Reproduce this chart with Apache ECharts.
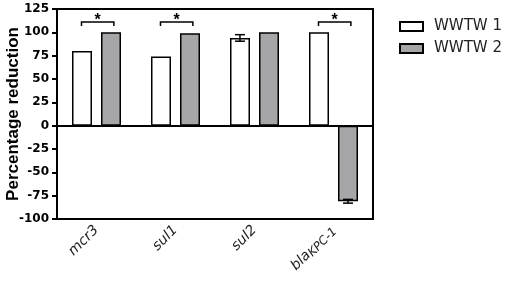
<!DOCTYPE html>
<html><head><meta charset="utf-8">
<script src="https://cdn.jsdelivr.net/npm/echarts@6/dist/echarts.min.js"></script>
<style>html,body{margin:0;padding:0;background:#fff}#c{width:510px;height:281px}</style>
</head><body><div id="c"></div>
<script>
const categories = ['mcr3', 'sul1', 'sul2', 'blaKPC-1'];
const seriesNames = ['WWTW 1', 'WWTW 2'];
const wwtw1 = [80, 74, 94, 100];
const wwtw2 = [100, 99, 100, -81];
const wwtw1Err = [0, 0, 3.5, 0];
const wwtw2Err = [0, 0, 0, 2];
const sigCategories = [0, 1, 3];
const sigHeight = 111;
const yTicks = [-100, -75, -50, -25, 0, 25, 50, 75, 100, 125];

const errData = [];
wwtw1.forEach((v, i) => { if (wwtw1Err[i] > 0) errData.push([i, 0, v, wwtw1Err[i]]); });
wwtw2.forEach((v, i) => { if (wwtw2Err[i] > 0) errData.push([i, 1, v, wwtw2Err[i]]); });
const sigData = sigCategories.map(i => [i, sigHeight]);

const chart = echarts.init(document.getElementById('c'));
const FONT = '"Liberation Sans", Arial, sans-serif';
const WIDE = '"DejaVu Sans", sans-serif';
chart.setOption({
  animation: false,
  textStyle: { fontFamily: FONT },
  grid: { left: 57, right: 137, top: 9, bottom: 62, show: true, borderColor: '#000', borderWidth: 2,
    outerBoundsMode: 'none', containLabel: false },
  legend: {
    left: 394, top: 14, orient: 'vertical', itemWidth: 23, itemHeight: 9, itemGap: 7, icon: 'rect',
    textStyle: { fontSize: 15, color: '#222', fontFamily: WIDE, padding: [0, 0, 0, 6] },
    data: seriesNames
  },
  xAxis: {
    type: 'category', data: categories,
    axisLine: { onZero: false, lineStyle: { color: '#000', width: 2 } },
    axisTick: { alignWithLabel: true, length: 5, lineStyle: { color: '#000', width: 2 } },
    axisLabel: {
      rotate: 45, margin: 9, color: '#222',
      formatter: v => v === 'blaKPC-1' ? '{i|bla}{s|KPC-1}' : '{i|' + v + '}',
      rich: {
        i: { fontSize: 14, fontStyle: 'italic', color: '#222', fontFamily: WIDE },
        s: { fontSize: 12, fontStyle: 'italic', color: '#222', fontFamily: WIDE, padding: [5, 0, 0, 0] }
      }
    }
  },
  yAxis: {
    type: 'value', min: yTicks[0], max: yTicks[yTicks.length - 1], interval: 25,
    name: 'Percentage reduction', nameLocation: 'middle', nameGap: 35, nameMoveOverlap: false,
    nameTextStyle: { fontSize: 17, fontWeight: 'bold', color: '#000', fontFamily: FONT },
    axisLine: { show: true, lineStyle: { color: '#000', width: 2 } },
    axisTick: { show: true, length: 5, lineStyle: { color: '#000', width: 2 } },
    axisLabel: { fontSize: 12, fontWeight: 'bold', color: '#000', margin: 8, fontFamily: WIDE },
    splitLine: { show: false }
  },
  series: [
    {
      name: seriesNames[0], type: 'bar', data: wwtw1, barWidth: 20, barGap: '45%',
      itemStyle: { color: '#fff', borderColor: '#000', borderWidth: 1.5 },
      markLine: { silent: true, symbol: 'none', label: { show: false },
        lineStyle: { color: '#000', width: 2, type: 'solid' }, data: [{ yAxis: 0 }] }
    },
    {
      name: seriesNames[1], type: 'bar', data: wwtw2, barWidth: 20,
      itemStyle: { color: '#a6a6a9', borderColor: '#000', borderWidth: 1.5 }
    },
    {
      type: 'custom', data: errData, z: 10, silent: true,
      renderItem: (params, api) => {
        const c = api.coord([api.value(0), api.value(2)]);
        const band = api.size([1, 0])[0];
        const off = (api.value(1) === 0 ? -1 : 1) * band * 0.184;
        const x = c[0] + off;
        const hi = api.coord([api.value(0), api.value(2) + api.value(3)])[1];
        const lo = api.coord([api.value(0), api.value(2) - api.value(3)])[1];
        const st = { stroke: '#000', lineWidth: 1.5 };
        return { type: 'group', children: [
          { type: 'line', shape: { x1: x, y1: hi, x2: x, y2: lo }, style: st },
          { type: 'line', shape: { x1: x - 5, y1: hi, x2: x + 5, y2: hi }, style: st },
          { type: 'line', shape: { x1: x - 5, y1: lo, x2: x + 5, y2: lo }, style: st }
        ]};
      }
    },
    {
      type: 'custom', data: sigData, z: 10, silent: true,
      renderItem: (params, api) => {
        const c = api.coord([api.value(0), api.value(1)]);
        const band = api.size([1, 0])[0];
        const x1 = c[0] - band * 0.19, x2 = c[0] + band * 0.22;
        const y = c[1];
        const st = { stroke: '#000', lineWidth: 1.5, fill: null };
        return { type: 'group', children: [
          { type: 'polyline', shape: { points: [[x1, y + 4], [x1, y], [x2, y], [x2, y + 4]] }, style: st },
          { type: 'text', style: { text: '*', x: (x1 + x2) / 2, y: y - 1, align: 'center', verticalAlign: 'middle',
            fontSize: 16, fontWeight: 'bold', fill: '#000', fontFamily: FONT } }
        ]};
      }
    }
  ]
});
</script></body></html>
